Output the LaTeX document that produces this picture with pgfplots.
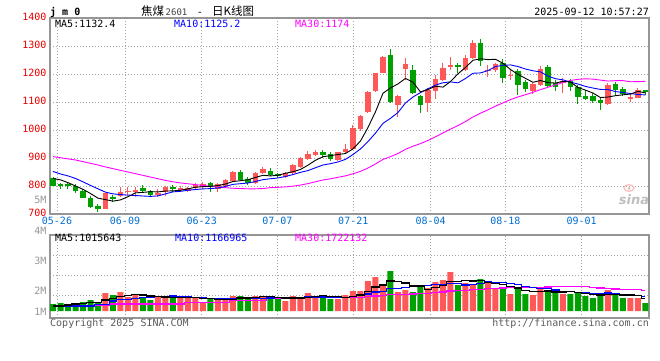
\documentclass[border=0pt]{standalone}
\usepackage{pgfplots}
\pgfplotsset{compat=1.18}
\usepackage{pgfplotstable}
\usepackage{fontspec}
\setmonofont{DejaVu Sans Mono}
\newfontfamily\cjk{Noto Sans CJK SC}
\newfontfamily\logofont{DejaVu Sans}
\definecolor{kred}{RGB}{255,88,88}
\definecolor{kgreen}{RGB}{0,160,0}
\definecolor{datecol}{RGB}{0,110,210}
\definecolor{pricecol}{RGB}{230,0,0}
\definecolor{volcol}{RGB}{150,150,150}
\definecolor{framecol}{RGB}{150,150,150}
\definecolor{gridcol}{RGB}{165,165,165}
\definecolor{txtgray}{RGB}{90,90,90}
\definecolor{mablue}{RGB}{0,0,255}
\definecolor{mamag}{RGB}{255,0,255}

% candles: i open high low close volume(px units above baseline)
\pgfplotstableread{
i o h l c v
7 719 776 717 774 18
9 765 798 760 780 19
10 779 798 768 783 14
11 777 795 762 786 17
14 769 788 762 776 15
15 780 800 765 798 13
17 787 801 783 793 13
18 781 798 777 794 13
19 792 812 786 805 13
20 795 813 788 807 9
22 788 812 780 807 11
23 800 824 797 821 11
24 819 853 817 850 15
27 810 850 806 848 15
28 845 868 842 860 14
31 833 851 830 848 10
32 845 880 843 876 15
33 869 903 866 900 14
34 896 925 894 914 18
35 911 929 908 922 15
38 893 923 890 921 12
39 921 950 918 931 16
40 933 1018 930 1006 20
41 1004 1052 998 1050 20
42 1066 1140 1060 1137 30
43 1139 1205 1136 1202 34
44 1205 1265 1203 1262 26
46 1089 1125 1048 1121 19
47 1218 1257 1179 1236 21
50 1098 1150 1065 1143 23
51 1140 1196 1111 1181 29
52 1178 1240 1175 1220 31
53 1226 1262 1214 1232 39
55 1214 1268 1212 1256 28
56 1256 1321 1252 1309 26
58 1212 1232 1190 1216 30
59 1216 1240 1208 1234 22
61 1193 1217 1179 1197 17
64 1139 1169 1127 1164 16
65 1161 1229 1158 1217 23
68 1167 1185 1133 1175 17
74 1093 1169 1089 1161 21
77 1113 1131 1101 1116 13
78 1115 1151 1113 1143 13
}\tabUp

\pgfplotstableread{
i o h l c v
0 827 833 800 801 7
1 807 812 790 800 8
2 806 812 788 800 7
3 800 807 774 782 8
4 782 788 756 758 9
5 758 764 723 726 11
6 729 735 708 717 9
8 762 768 744 755 16
12 794 804 774 782 14
13 782 786 764 768 11
16 795 805 780 789 14
21 810 815 780 795 13
25 851 858 820 822 15
26 825 832 805 812 13
29 855 863 835 838 14
30 843 848 828 834 12
36 922 929 900 911 14
37 914 921 888 895 12
45 1268 1289 1098 1101 40
48 1214 1232 1130 1133 19
49 1121 1125 1062 1089 26
54 1231 1238 1202 1228 26
57 1312 1325 1228 1248 32
60 1240 1252 1169 1185 22
62 1211 1217 1125 1161 24
63 1173 1179 1137 1145 17
66 1226 1232 1155 1158 20
67 1167 1179 1140 1155 19
69 1175 1181 1139 1152 17
70 1152 1161 1093 1119 19
71 1121 1143 1107 1111 15
72 1121 1131 1098 1103 13
73 1107 1113 1071 1095 16
75 1164 1173 1123 1143 17
76 1146 1155 1121 1127 13
79 1143 1143 1125 1136 8
}\tabDn

% price moving averages: i ma5 ma10 ma30
\pgfplotstableread{
i a b c
0 827 852 905
1 822 843 901
2 812 836 897
3 800 827 893
4 788.2 815 887
5 773.2 802 881
6 756.6 790 875
7 751.4 778 868
8 746 772 862
9 750.4 769.3 856
10 761.8 767.5 850
11 775.6 766.1 844
12 777.2 764.3 838
13 779.8 762.9 832
14 779 764.7 826
15 782 771.9 820
16 782.6 779.1 815
17 784.8 781 811
18 790 784.9 808
19 795.8 787.4 805
20 797.6 789.8 802
21 798.8 790.7 799
22 801.6 793.2 796
23 807 798.5 794
24 816 805.9 792
25 819 808.3 791
26 822.4 810.6 790
27 830.6 816.1 790
28 838.4 822.7 791
29 836 826 794.2
30 838.4 828.7 795.3
31 845.6 834 796.9
32 851.2 840.9 799.5
33 859.2 848.8 803.4
34 874.4 855.2 808.6
35 892 865.2 815.1
36 904.6 875.1 821.6
37 908.4 879.8 825.6
38 912.6 885.9 831.2
39 916 895.2 836.2
40 932.8 912.4 843.6
41 960.6 932.6 852.4
42 1009 958.7 864.3
43 1065.2 988.9 878.7
44 1131.4 1023.7 894.9
45 1150.4 1041.6 905
46 1164.6 1062.6 916.1
47 1184.4 1096.7 930.9
48 1170.6 1117.9 942.2
49 1136 1133.7 951.6
50 1144.4 1147.4 962.8
51 1156.4 1160.5 975.7
52 1153.2 1168.8 989.5
53 1173 1171.8 1003.2
54 1200.8 1168.4 1015.8
55 1223.4 1183.9 1030.2
56 1249 1202.7 1046.8
57 1254.6 1203.9 1060.1
58 1251.4 1212.2 1072
59 1252.6 1226.7 1085.2
60 1238.4 1230.9 1096.9
61 1216 1232.5 1108.5
62 1198.6 1226.6 1118
63 1184.4 1217.9 1126.2
64 1170.4 1211.5 1134.5
65 1176.8 1207.6 1144.4
66 1169 1192.5 1152.6
67 1167.8 1183.2 1161.3
68 1173.8 1179.1 1169.7
69 1171.4 1170.9 1177.1
70 1151.8 1164.3 1180.9
71 1142.4 1155.7 1182.9
72 1132 1149.9 1181.8
73 1116 1144.9 1178.2
74 1117.8 1144.6 1174.8
75 1122.6 1137.2 1176.2
76 1125.8 1134.1 1176.4
77 1128.4 1130.2 1172.4
78 1138 1127 1172.8
79 1132.4 1125.2 1174
}\tabMA

% volume moving averages (same px units as bars)
\pgfplotstableread{
i a b c
0 5 5 5.3
1 5 5 5.3
2 6 5 5.3
3 7 5 5.3
4 7.8 5 5.3
5 8.6 5 5.3
6 8.8 6.7 6
7 11 6.7 6
8 12.6 10 7
9 14.6 11.2 7
10 15.2 11.9 7
11 16.8 12.8 7
12 16 13.5 7
13 15 13.8 7
14 14.2 14.4 7
15 14 14.6 7
16 13.4 15.1 7
17 13.2 14.6 7
18 13.6 14.3 8.7
19 13.2 13.7 8.7
20 12.4 13.2 8.7
21 12.2 12.8 8.7
22 11.8 12.5 8.7
23 11.4 12.5 8.7
24 11.8 12.5 10.7
25 13 12.7 10.7
26 13 12.6 10.7
27 13.8 12.8 10.7
28 14.4 12.9 10.7
29 14.2 13 12.6
30 13.6 13.3 12.8
31 13 13 12.9
32 13 13.4 13.1
33 13 13.7 13.3
34 13.8 14 13.6
35 14.4 14 13.8
36 15.2 14.1 13.9
37 14.6 13.8 13.7
38 14.2 13.6 13.6
39 13.8 13.8 13.5
40 14.8 14.6 13.7
41 16 15.6 13.8
42 19.6 17.1 14.3
43 24 19.1 15.1
44 26 19.9 15.5
45 30 22.4 16.4
46 29.8 22.9 16.5
47 28 23.8 16.8
48 25 24.5 17
49 25 25.5 17.4
50 21.6 25.8 17.9
51 23.6 26.7 18.4
52 25.6 26.8 19.1
53 29.6 27.3 20
54 29.6 27.3 20.4
55 30.6 26.1 20.8
56 30 26.8 21.3
57 30.2 27.9 21.8
58 28.4 29 22.4
59 27.6 28.6 22.6
60 26.4 28.5 23
61 24.6 27.3 23.2
62 23 26.6 23.5
63 20.4 24.4 23.6
64 19.2 23.4 23.5
65 19.4 22.9 23.8
66 20 22.3 24
67 19 21 24.2
68 19 19.7 24.4
69 19.2 19.2 24.4
70 18.4 18.9 24.4
71 17.4 18.7 24.2
72 16.2 17.6 23.7
73 16 17.5 23.1
74 16.8 18 22.9
75 16.4 17.4 22.1
76 16 16.7 21.9
77 16 16.1 21.7
78 15.4 15.7 21.5
79 12.8 14.8 20.9
}\tabVMA

\pgfplotsset{
  klbase/.style={scale only axis, width=599pt, xmin=-0.4, xmax=79.47,
    xtick={0.53,9.6,19.83,29.91,40.04,50.36,60.31,70.49},
    major tick length=0pt, grid=major,
    major grid style={gridcol, dash pattern=on 1pt off 2pt, line width=0.9pt},
    axis line style={framecol, line width=1.1pt},
    ticklabel style={font=\ttfamily\fontsize{10}{10}\selectfont, inner sep=0pt},
    /pgf/number format/assume math mode=true,
    /pgf/number format/1000 sep={}},
  wick/.style={forget plot, draw=none, mark=none,
    error bars/.cd, y dir=both, y explicit, error mark=none,
    error bar style={solid, draw=#1, line width=1pt}},
  body/.style={forget plot, draw=none, mark=none,
    error bars/.cd, y dir=both, y explicit, error mark=none,
    error bar style={solid, draw=#1, line width=5.4pt}},
}

\begin{document}
\begin{tikzpicture}
\path[use as bounding box] (0pt,0pt) rectangle (660pt,-360pt);

% ---------------- price panel ----------------
\begin{axis}[klbase, at={(50pt,-18pt)}, anchor=north west, height=196pt,
  ymin=700, ymax=1400, ytick={700,800,...,1400},
  xticklabels={05-26,06-09,06-23,07-07,07-21,08-04,08-18,09-01},
  yticklabel style={text=pricecol, anchor=east, xshift=-3.3pt, yshift=1.5pt},
  xticklabel style={text=datecol, anchor=north, yshift=-3pt}]
  \addplot[wick=kred] table[x=i, y expr={(\thisrow{h}+\thisrow{l})/2}, y error expr={(\thisrow{h}-\thisrow{l})/2}] {\tabUp};
  \addplot[wick=kgreen] table[x=i, y expr={(\thisrow{h}+\thisrow{l})/2}, y error expr={(\thisrow{h}-\thisrow{l})/2}] {\tabDn};
  \addplot[body=kred] table[x=i, y expr={(\thisrow{o}+\thisrow{c})/2}, y error expr={max(abs(\thisrow{c}-\thisrow{o})/2,1.8)}] {\tabUp};
  \addplot[body=kgreen] table[x=i, y expr={(\thisrow{o}+\thisrow{c})/2}, y error expr={max(abs(\thisrow{c}-\thisrow{o})/2,1.8)}] {\tabDn};
  \addplot[mamag, line width=0.9pt, mark=none] table[x=i, y=c] {\tabMA};
  \addplot[mablue, line width=0.9pt, mark=none] table[x=i, y=b] {\tabMA};
  \addplot[black, line width=0.9pt, mark=none] table[x=i, y=a] {\tabMA};
\end{axis}

% ---------------- volume panel ----------------
\begin{axis}[klbase, at={(50pt,-235pt)}, anchor=north west, height=83pt,
  ymin=-7, ymax=76, ytick={16,36,56}, xticklabels={}, yticklabels={}]
  \addplot[ybar, bar width=6pt, bar shift=0pt, fill=kred, draw=none, forget plot] table[x=i, y=v] {\tabUp};
  \addplot[ybar, bar width=6pt, bar shift=0pt, fill=kgreen, draw=none, forget plot] table[x=i, y=v] {\tabDn};
  \addplot[const plot mark mid, mamag, line width=1.2pt, mark=none] table[x=i, y=c] {\tabVMA};
  \addplot[const plot mark mid, mablue, line width=1.2pt, mark=none] table[x=i, y=b] {\tabVMA};
  \addplot[const plot mark mid, black, line width=1.2pt, mark=none] table[x=i, y=a] {\tabVMA};
\end{axis}

% ---------------- texts ----------------
\node[anchor=base west, inner sep=0pt, font=\ttfamily\bfseries\fontsize{10}{10}\selectfont] at (50pt,-15.5pt) {j m 0};
\node[anchor=base west, inner sep=0pt, font=\cjk\fontsize{11.5}{11.5}\selectfont] at (141pt,-15.5pt) {焦煤};
\node[anchor=base west, inner sep=0pt, font=\ttfamily\fontsize{9}{9}\selectfont, text=black!75] at (165.5pt,-15.5pt) {2601};
\node[anchor=base, inner sep=0pt, font=\ttfamily\fontsize{10}{10}\selectfont] at (200pt,-15.5pt) {-};
\node[anchor=base west, inner sep=0pt, font=\cjk\fontsize{11.5}{11.5}\selectfont] at (212pt,-15.5pt) {日K线图};
\node[anchor=base east, inner sep=0pt, font=\ttfamily\fontsize{10}{10}\selectfont] at (649pt,-15.3pt) {2025-09-12 10:57:27};

\begin{scope}[every node/.style={anchor=base west, inner sep=0pt, font=\ttfamily\fontsize{10}{10}\selectfont}]
\node at (55pt,-27.3pt) {MA5:1132.4};
\node[text=mablue] at (174pt,-27.3pt) {MA10:1125.2};
\node[text=mamag] at (295pt,-27.3pt) {MA30:1174};
\node at (55pt,-241.7pt) {MA5:1015643};
\node[text=mablue] at (175pt,-241.7pt) {MA10:1166965};
\node[text=mamag] at (295pt,-241.7pt) {MA30:1722132};
\end{scope}

\begin{scope}[every node/.style={anchor=east, inner sep=0pt, text=volcol, font=\ttfamily\fontsize{10}{10}\selectfont}]
\node at (46.7pt,-200pt) {5M};
\node at (46.7pt,-231pt) {4M};
\node at (46.7pt,-260.7pt) {3M};
\node at (46.7pt,-290.7pt) {2M};
\node at (46.7pt,-311.7pt) {1M};
\end{scope}

\node[anchor=base west, inner sep=0pt, text=txtgray, font=\ttfamily\fontsize{10}{10}\selectfont] at (50pt,-326pt) {Copyright 2025 SINA.COM};
\node[anchor=base east, inner sep=0pt, text=txtgray, font=\ttfamily\fontsize{10}{10}\selectfont] at (649pt,-326pt) {http://finance.sina.com.cn};

% sina logo
\draw[red!25, line width=1.3pt] (629pt,-188pt) ellipse (5pt and 3.3pt);
\fill[gray!45] (629pt,-188.3pt) circle (1.5pt);
\node[inner sep=0pt, text=gray!50, font=\logofont\bfseries\itshape\fontsize{13}{13}\selectfont] at (634pt,-200pt) {sina};
\end{tikzpicture}
\end{document}
